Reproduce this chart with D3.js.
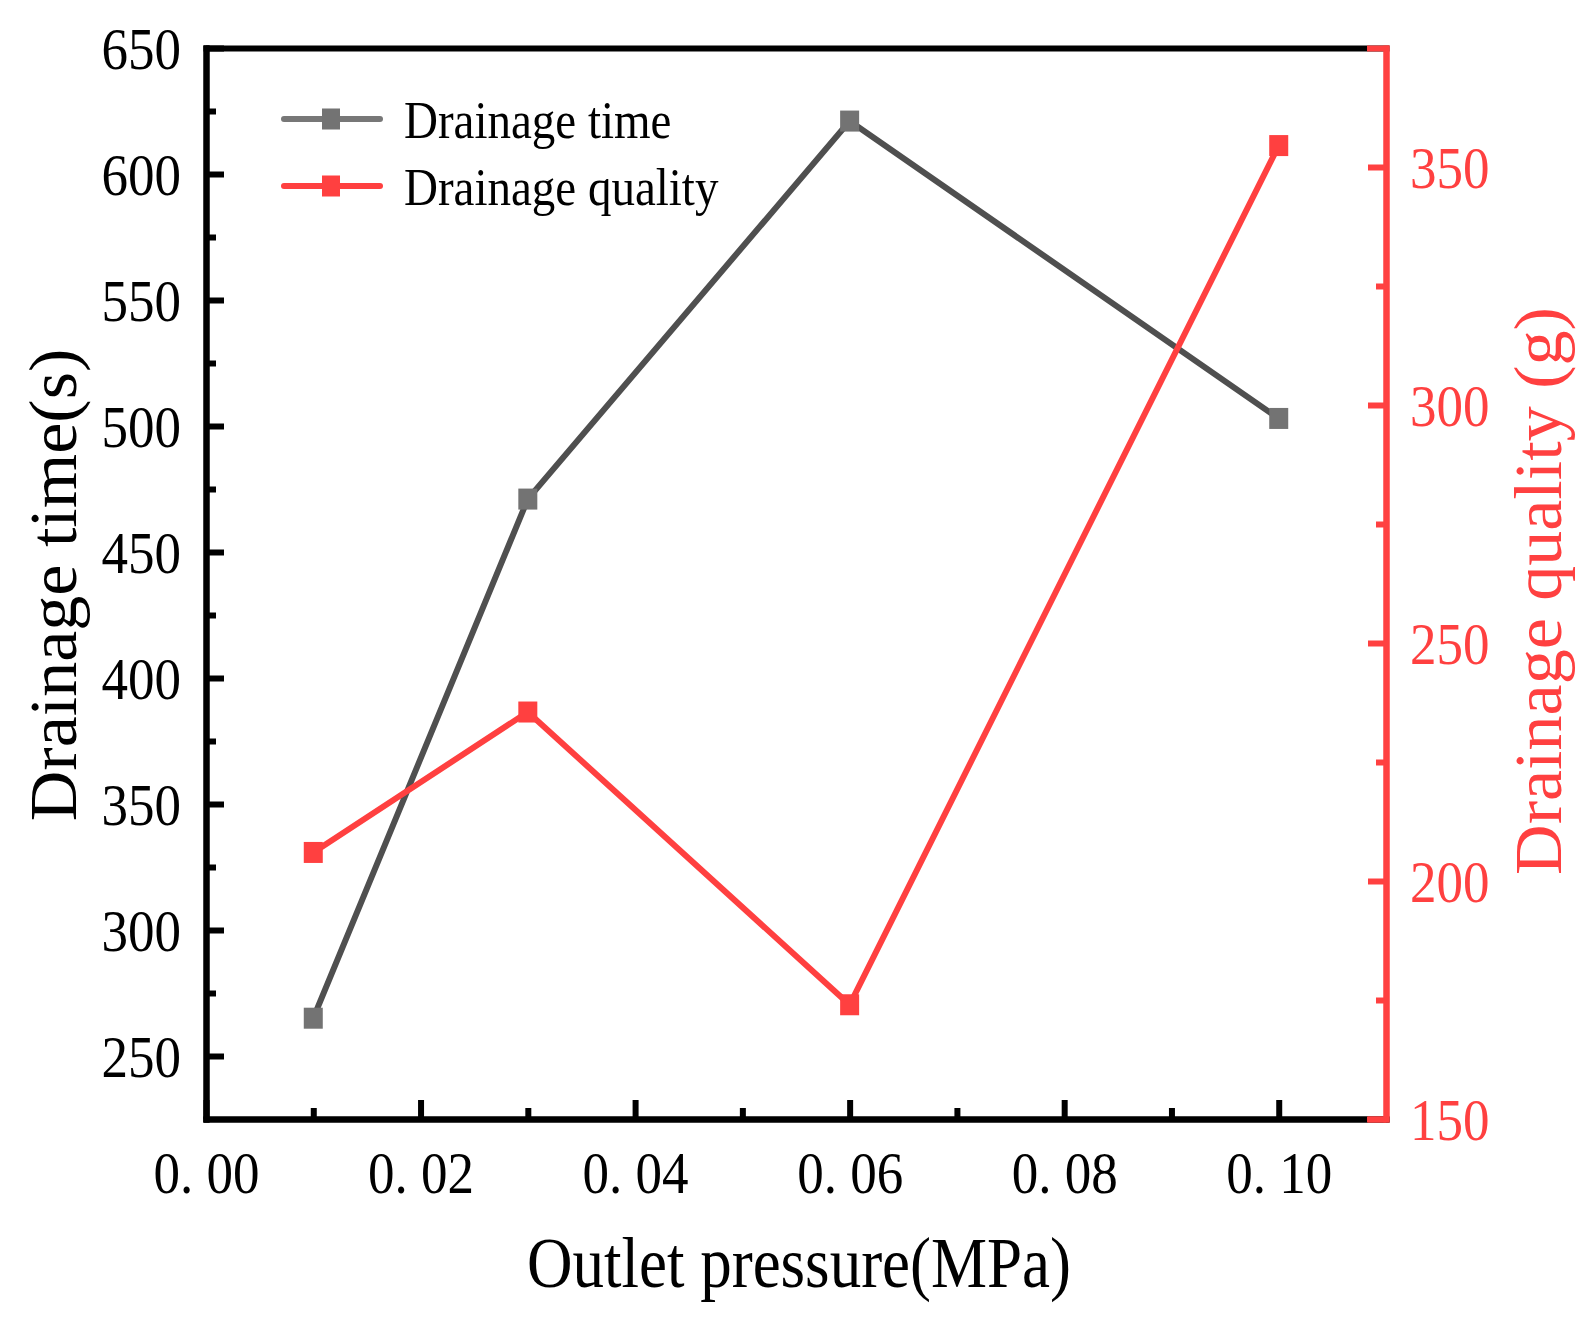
<!DOCTYPE html>
<html>
<head>
<meta charset="utf-8">
<script src="https://cdn.jsdelivr.net/npm/d3@7/dist/d3.min.js"></script>
<style>
  body { margin: 0; background: #fff; }
  svg { display: block; }
</style>
</head>
<body>
<script>
// values
const pressure = [0.01, 0.03, 0.06, 0.10]
const drainageTime = [265, 471, 621, 503]
const drainageQuality = [206, 235.5, 174, 354.5]

const xTicks = [0, 0.02, 0.04, 0.06, 0.08, 0.10]
const xMinor = [0.01, 0.03, 0.05, 0.07, 0.09]
const leftTicks = [250, 300, 350, 400, 450, 500, 550, 600, 650]
const leftMinor = [275, 325, 375, 425, 475, 525, 575, 625]
const rightTicks = [150, 200, 250, 300, 350]
const rightMinor = [175, 225, 275, 325]

const width = 1593
const height = 1317
const plot = { left: 206, right: 1386, top: 48, bottom: 1119 }
const grey = '#4f4f4f'
const greyMark = '#737373'
const red = '#ff4040'
const font = "'Liberation Serif', 'Times New Roman', serif"
const stretch = 1.13

const x = d3.scaleLinear().domain([0, 0.11]).range([plot.left, plot.right])
const yL = d3.scaleLinear().domain([225, 650]).range([plot.bottom, plot.top])
const yR = d3.scaleLinear().domain([150, 375]).range([plot.bottom, plot.top])

const svg = d3.select('body').append('svg')
  .attr('width', width)
  .attr('height', height)
  .attr('font-family', font)

function styleAxis (g, color) {
  g.attr('font-family', font)
  g.select('.domain')
    .attr('stroke', color)
    .attr('stroke-width', 6)
    .attr('stroke-linecap', 'square')
  g.selectAll('.tick line').attr('stroke', color).attr('stroke-width', 6)
}

// frame top
svg.append('g')
  .attr('transform', `translate(0,${plot.top})`)
  .call(d3.axisTop(x).tickValues([]).tickSizeOuter(0))
  .call(g => styleAxis(g, '#000'))

// bottom axis
svg.append('g')
  .attr('transform', `translate(0,${plot.bottom})`)
  .call(d3.axisBottom(x).tickValues(xMinor).tickSizeInner(-11).tickSizeOuter(0).tickFormat(''))
  .call(g => styleAxis(g, '#000'))
svg.append('g')
  .attr('transform', `translate(0,${plot.bottom})`)
  .call(d3.axisBottom(x).tickValues(xTicks).tickSizeInner(-19).tickSizeOuter(0)
    .tickFormat(d => d3.format('.2f')(d).replace('.', '. ')))
  .call(g => styleAxis(g, '#000'))
  .call(g => g.selectAll('text')
    .attr('y', 0).attr('dy', '0.34em')
    .attr('transform', `translate(0,54) scale(1,${stretch})`)
    .attr('font-size', 53).attr('fill', '#000'))

// left axis
svg.append('g')
  .attr('transform', `translate(${plot.left},0)`)
  .call(d3.axisLeft(yL).tickValues(leftMinor).tickSizeInner(-10).tickSizeOuter(0).tickFormat(''))
  .call(g => styleAxis(g, '#000'))
svg.append('g')
  .attr('transform', `translate(${plot.left},0)`)
  .call(d3.axisLeft(yL).tickValues(leftTicks).tickSizeInner(-18).tickSizeOuter(0))
  .call(g => styleAxis(g, '#000'))
  .call(g => g.selectAll('text')
    .attr('x', 0).attr('dy', '0.34em')
    .attr('transform', `translate(-25,0) scale(1,${stretch})`)
    .attr('font-size', 53).attr('fill', '#000'))

// right axis (red)
svg.append('g')
  .attr('transform', `translate(${plot.right},0)`)
  .call(d3.axisRight(yR).tickValues(rightMinor).tickSizeInner(-10).tickSizeOuter(0).tickFormat(''))
  .call(g => styleAxis(g, red))
svg.append('g')
  .attr('transform', `translate(${plot.right},0)`)
  .call(d3.axisRight(yR).tickValues(rightTicks).tickSizeInner(-18).tickSizeOuter(-19))
  .call(g => styleAxis(g, red))
  .call(g => g.select('.domain').attr('stroke-linecap', 'butt'))
  .call(g => g.selectAll('text')
    .attr('x', 0).attr('dy', '0.34em')
    .attr('transform', `translate(24,0) scale(1,${stretch})`)
    .attr('font-size', 53).attr('fill', red))

// series
const timeLine = d3.line().x((d, i) => x(pressure[i])).y(d => yL(d))
const qualityLine = d3.line().x((d, i) => x(pressure[i])).y(d => yR(d))

function drawSeries (values, line, y, stroke, fill) {
  const g = svg.append('g')
  g.append('path')
    .datum(values)
    .attr('d', line)
    .attr('fill', 'none')
    .attr('stroke', stroke)
    .attr('stroke-width', 6)
    .attr('stroke-linejoin', 'miter')
  g.selectAll('rect')
    .data(values)
    .join('rect')
    .attr('x', (d, i) => x(pressure[i]) - 9.5)
    .attr('y', d => y(d) - 10.5)
    .attr('width', 19)
    .attr('height', 21)
    .attr('fill', fill)
}

drawSeries(drainageTime, timeLine, yL, grey, greyMark)
drawSeries(drainageQuality, qualityLine, yR, red, red)

// legend
const legend = [
  { name: 'Drainage time', stroke: '#777', fill: greyMark, y: 119 },
  { name: 'Drainage quality', stroke: red, fill: red, y: 186 }
]
const lg = svg.append('g').selectAll('g').data(legend).join('g')
  .attr('transform', d => `translate(0,${d.y})`)
lg.append('line')
  .attr('x1', 284).attr('x2', 380)
  .attr('stroke', d => d.stroke)
  .attr('stroke-width', 6)
  .attr('stroke-linecap', 'round')
lg.append('rect')
  .attr('x', 322).attr('y', -10.5)
  .attr('width', 18).attr('height', 21)
  .attr('fill', d => d.fill)
lg.append('text')
  .attr('transform', `translate(404,19) scale(1,${stretch})`)
  .attr('font-size', 47)
  .text(d => d.name)

// axis titles
svg.append('text')
  .attr('transform', `translate(799,1287) scale(1,${stretch})`)
  .attr('text-anchor', 'middle')
  .attr('font-size', 63)
  .text('Outlet pressure(MPa)')

svg.append('text')
  .attr('transform', `translate(76,585) rotate(-90) scale(1.03,1)`)
  .attr('text-anchor', 'middle')
  .attr('font-size', 68)
  .text('Drainage time(s)')

svg.append('text')
  .attr('transform', `translate(1561,591) rotate(-90) scale(1.03,1)`)
  .attr('text-anchor', 'middle')
  .attr('font-size', 68)
  .attr('fill', red)
  .text('Drainage quality (g)')
</script>
</body>
</html>
